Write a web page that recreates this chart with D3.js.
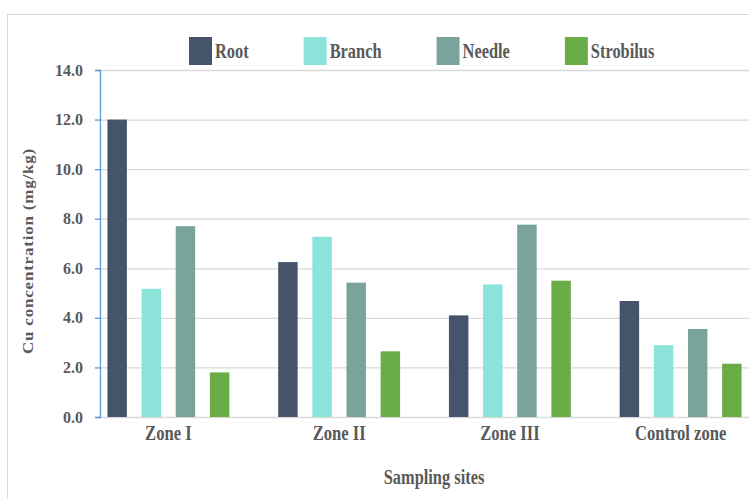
<!DOCTYPE html>
<html>
<head>
<meta charset="utf-8">
<script src="https://cdn.jsdelivr.net/npm/d3@7"></script>
<style>
  body { margin: 0; background: #fff; }
  text { font-family: "Liberation Serif", "Times New Roman", serif; font-weight: bold; fill: #595959; }
</style>
</head>
<body>
<svg id="graph" width="749" height="499"></svg>
<script>
// datos del grafico
const zonas = ["Zone I", "Zone II", "Zone III", "Control zone"];
const series = ["Root", "Branch", "Needle", "Strobilus"];
const root = [12.0, 6.25, 4.1, 4.68];
const branch = [5.17, 7.27, 5.35, 2.9];
const needle = [7.7, 5.42, 7.76, 3.55];
const strobilus = [1.8, 2.65, 5.5, 2.15];
const yTicks = [0, 2, 4, 6, 8, 10, 12, 14];

const valores = { Root: root, Branch: branch, Needle: needle, Strobilus: strobilus };
const colores = ["#44546a", "#8be3da", "#7aa39b", "#6aac46"];

const svg = d3.select("#graph");

// marco exterior
svg.append("rect")
    .attr("x", 7.5).attr("y", 14.5)
    .attr("width", 780).attr("height", 520)
    .attr("fill", "none")
    .attr("stroke", "#d9d9d9");

const plotLeft = 100, plotRight = 749, plotTop = 70, plotBottom = 417;

const y = d3.scaleLinear().domain([0, 14]).range([plotBottom, plotTop]);

// escala de categorias (las bandas empiezan un poco antes del eje)
const x0 = d3.scaleBand().domain(zonas).range([83, 766])
    .paddingInner(0.2).paddingOuter(0.1);
const x1 = d3.scaleBand().domain(series).range([0, x0.bandwidth()])
    .paddingInner(0.43).paddingOuter(0.215);
const color = d3.scaleOrdinal().domain(series).range(colores);

// lineas de la grilla
svg.append("g")
    .selectAll("line")
    .data(yTicks)
    .join("line")
    .attr("x1", plotLeft).attr("x2", plotRight)
    .attr("y1", d => y(d) + 0.5).attr("y2", d => y(d) + 0.5)
    .attr("stroke", "#d9d9d9")
    .attr("stroke-width", 1.3);

// barras
const grupos = svg.append("g")
    .selectAll("g")
    .data(zonas)
    .join("g")
    .attr("transform", d => `translate(${x0(d)},0)`);

grupos.selectAll("rect")
    .data((z, i) => series.map(s => ({ serie: s, valor: valores[s][i] })))
    .join("rect")
    .attr("x", d => x1(d.serie))
    .attr("width", x1.bandwidth())
    .attr("y", d => y(d.valor))
    .attr("height", d => y(0) - y(d.valor))
    .attr("fill", d => color(d.serie));

// eje Y
const yAxis = svg.append("g")
    .attr("transform", `translate(${plotLeft},0)`)
    .call(d3.axisLeft(y).tickValues(yTicks).tickFormat(d3.format(".1f")).tickSize(5).tickPadding(12));
yAxis.select(".domain").attr("stroke", "#5b9bd5").attr("stroke-width", 1.3);
yAxis.selectAll(".tick line").attr("stroke", "#5b9bd5").attr("stroke-width", 1.3);
yAxis.selectAll(".tick text")
    .attr("fill", "#595959")
    .style("font-size", "16px")
    .style("font-family", "Liberation Serif")
    .style("font-weight", "bold");

// eje X (solo etiquetas)
const xAxis = svg.append("g")
    .attr("transform", `translate(0,${plotBottom})`)
    .call(d3.axisBottom(x0).tickSize(0).tickPadding(0));
xAxis.select(".domain").remove();
xAxis.selectAll(".tick text")
    .attr("y", 23).attr("dy", 0)
    .attr("transform", "scale(0.83,1)")
    .attr("fill", "#595959")
    .style("font-size", "20px")
    .style("font-family", "Liberation Serif")
    .style("font-weight", "bold");

// titulos de ejes
svg.append("text")
    .attr("transform", "translate(434,484) scale(0.82,1)")
    .attr("text-anchor", "middle")
    .style("font-size", "20px")
    .text("Sampling sites");

svg.append("text")
    .attr("transform", "translate(33,251) rotate(-90) scale(1,0.82)")
    .attr("text-anchor", "middle")
    .style("font-size", "17px")
    .style("letter-spacing", "0.8px")
    .text("Cu concentration (mg/kg)");

// leyenda
let lx = 189;
series.forEach(s => {
    const item = svg.append("g").attr("class", "legend");
    item.append("rect")
        .attr("x", lx).attr("y", 37)
        .attr("width", 23).attr("height", 28)
        .attr("fill", color(s));
    const t = item.append("text")
        .attr("transform", `translate(${lx + 26},58) scale(0.82,1)`)
        .style("font-size", "20px")
        .text(s);
    const w = t.node().getComputedTextLength() * 0.82;
    lx += 26 + w + 55;
});
</script>
</body>
</html>
